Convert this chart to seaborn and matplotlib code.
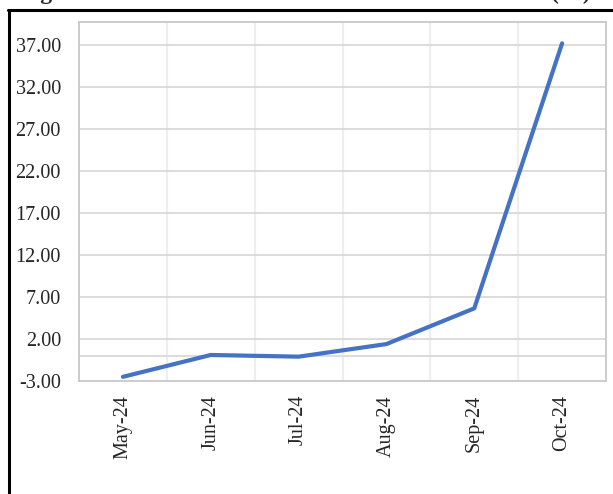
import numpy as np
import pandas as pd
import matplotlib
matplotlib.use("Agg")
import matplotlib.pyplot as plt
from matplotlib.lines import Line2D
import seaborn as sns

# data
months = ["May-24", "Jun-24", "Jul-24", "Aug-24", "Sep-24", "Oct-24"]
values = [-2.5, 0.1, -0.1, 1.4, 5.65, 37.2]
y_ticks = [-3, 2, 7, 12, 17, 22, 27, 32, 37]
y_tick_labels = ["-3.00", "2.00", "7.00", "12.00", "17.00", "22.00", "27.00", "32.00", "37.00"]
title = "Figure 3: Month-on-Month Headline Inflation Rate (%)"

df = pd.DataFrame({"month": months, "value": values})

sns.set_style("white")
plt.rcParams["font.family"] = ["Liberation Serif", "DejaVu Serif"]

fig = plt.figure(figsize=(6.13, 4.94), dpi=100)
ax = fig.add_axes([0.1289, 0.2287, 0.8597, 0.7268])

sns.lineplot(data=df, x="month", y="value", sort=False, ax=ax,
             color="#4472C4", linewidth=3.0, solid_capstyle="round", zorder=5)

ax.set_xlim(-0.5, len(months) - 0.5)
ax.set_ylim(-3, 39.74)
ax.set_yticks(y_ticks)
ax.set_yticklabels(y_tick_labels, fontsize=14.5)
ax.set_xticks(range(len(months)))
ax.set_xticklabels(months, rotation=90, fontsize=14.5)
ax.tick_params(axis="y", length=0, pad=13)
ax.tick_params(axis="x", length=0, pad=10)
ax.set_xlabel("")
ax.set_ylabel("")

# gridlines
for y in y_ticks[1:]:
    ax.axhline(y, color="#d9d9d9", linewidth=1.3, zorder=1)
ax.axhline(0, color="#d9d9d9", linewidth=1.3, zorder=1)
for x in np.arange(0.5, len(months) - 0.5, 1):
    ax.axvline(x, color="#eeeeee", linewidth=1.6, zorder=0)

for s in ax.spines.values():
    s.set_color("#c8c8c8")
    s.set_linewidth(1.3)

# outer chart frame (only top and left are visible)
fig.add_artist(Line2D([9 / 613, 9 / 613], [0, 1 - 10 / 494], transform=fig.transFigure,
                      color="black", linewidth=2.2))
fig.add_artist(Line2D([8 / 613, 1], [1 - 10 / 494, 1 - 10 / 494], transform=fig.transFigure,
                      color="black", linewidth=2.2))

# title cut off at the top edge, as in the source
fig.text(19 / 613, 1 + 1.5 / 494, title, ha="left", va="baseline",
         fontsize=17.2, fontweight="bold")

fig.savefig("out.png", dpi=100)
